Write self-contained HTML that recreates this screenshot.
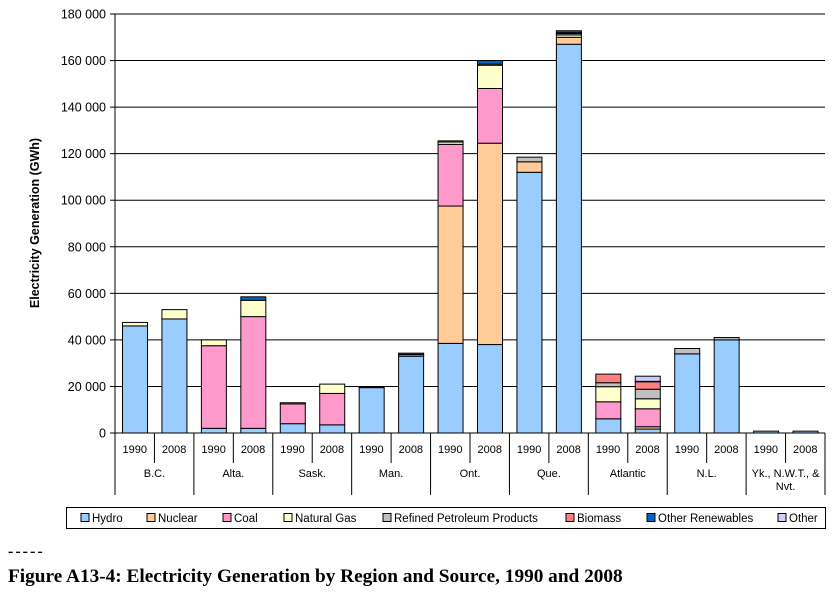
<!DOCTYPE html>
<html><head><meta charset="utf-8"><style>
body{margin:0;background:#fff;width:838px;height:593px;overflow:hidden}
svg{display:block}
text{font-family:"Liberation Sans",Arial,sans-serif;font-size:11px;fill:#000}
</style></head><body>
<svg id="s" width="838" height="593" xmlns="http://www.w3.org/2000/svg"></svg>
<script>
const s=document.getElementById('s');
let h='';
const X0=115,X1=825,Y0=433,K=419/180;
const y=v=>Y0-v*K;
for(let i=0;i<=9;i++){const yy=y(i*20);
 if(i>0)h+=`<line x1="${X0}" x2="${X1}" y1="${yy}" y2="${yy}" stroke="#000" stroke-width="1"/>`;
 h+=`<line x1="${X0-5}" x2="${X0}" y1="${yy}" y2="${yy}" stroke="#000"/>`;
 const lbl=i==0?'0':(i*20)+' 000';
 h+=`<text x="${X0-9}" y="${yy+4.5}" text-anchor="end" style="font-size:12.5px">${lbl}</text>`;}
h+=`<text transform="translate(39,223) rotate(-90)" text-anchor="middle" style="font-size:12.5px;font-weight:bold">Electricity Generation (GWh)</text>`;
const C=['#99CCFF','#FFCC99','#FF99CC','#FFFFCC','#C0C0C0','#FF8080','#0066CC','#CCCCFF'];
const D=[[46,0,0,1.5],[49,0,0,4],[2,0,35.5,2.5],[2,0,48,7,0,0,1.5],[4,0,8.5,0.5],[3.5,0,13.5,4],
[19.5,0,0.3],[33,0,0.7,0,0,0,0.6],[38.5,59,26.5,1,0.5],[38,86.5,23.5,10,0.5,0,1.5],[112,4.5,0,0,2],[167,3,0,1,0.6,0.4,0.8],
[6.1,0,7.3,6.5,1.7,3.7],[1.7,1,7.7,4.3,4.1,3.2,0.2,2.2],[34,0,0,0,2.3],[40,0,0,0,1],[0.8],[0.8]];
const W=(X1-X0)/18;
D.forEach((d,i)=>{let acc=0;const bx=X0+i*W+7.5;
 d.forEach((v,j)=>{if(!v)return;const t=y(acc+v),b=y(acc);acc+=v;
  h+=`<rect x="${bx}" y="${t}" width="25" height="${b-t}" fill="${C[j]}" stroke="#000" stroke-width="1"/>`;});});
h+=`<line x1="${X0}" x2="${X0}" y1="14" y2="${Y0}" stroke="#000"/>`;
h+=`<line x1="${X0}" x2="${X1}" y1="${Y0}" y2="${Y0}" stroke="#000"/>`;
for(let i=0;i<=18;i++){const xx=X0+i*W;const long=i%2==0;
 h+=`<line x1="${xx}" x2="${xx}" y1="${Y0}" y2="${long?495:463}" stroke="#000"/>`;
 if(i<18)h+=`<text x="${xx+W/2}" y="453" text-anchor="middle">${i%2?'2008':'1990'}</text>`;}
const R=['B.C.','Alta.','Sask.','Man.','Ont.','Que.','Atlantic','N.L.'];
R.forEach((r,i)=>h+=`<text x="${X0+(2*i+1)*W}" y="477" text-anchor="middle">${r}</text>`);
h+=`<text x="${X0+17*W}" y="477" text-anchor="middle">Yk., N.W.T., &amp;</text><text x="${X0+17*W}" y="490" text-anchor="middle">Nvt.</text>`;
h+=`<rect x="66.5" y="507.5" width="759" height="21" fill="#fff" stroke="#000"/>`;
const L=[['Hydro',81],['Nuclear',147],['Coal',223],['Natural Gas',284],['Refined Petroleum Products',383],['Biomass',566],['Other Renewables',647],['Other',778]];
L.forEach(([n,x],j)=>{h+=`<rect x="${x}" y="513.5" width="8" height="8" fill="${C[j]}" stroke="#000"/><text x="${x+11}" y="522" style="font-size:11.5px">${n}</text>`;});
h+=`<text x="8" y="556" style="font-family:'Liberation Serif',serif;font-size:16px;font-weight:bold;letter-spacing:2px">-----</text>`;
h+=`<text x="8" y="582" style="font-family:'Liberation Serif',serif;font-size:19.3px;font-weight:bold">Figure A13-4: Electricity Generation by Region and Source, 1990 and 2008</text>`;
s.innerHTML=h;
</script>
</body></html>
